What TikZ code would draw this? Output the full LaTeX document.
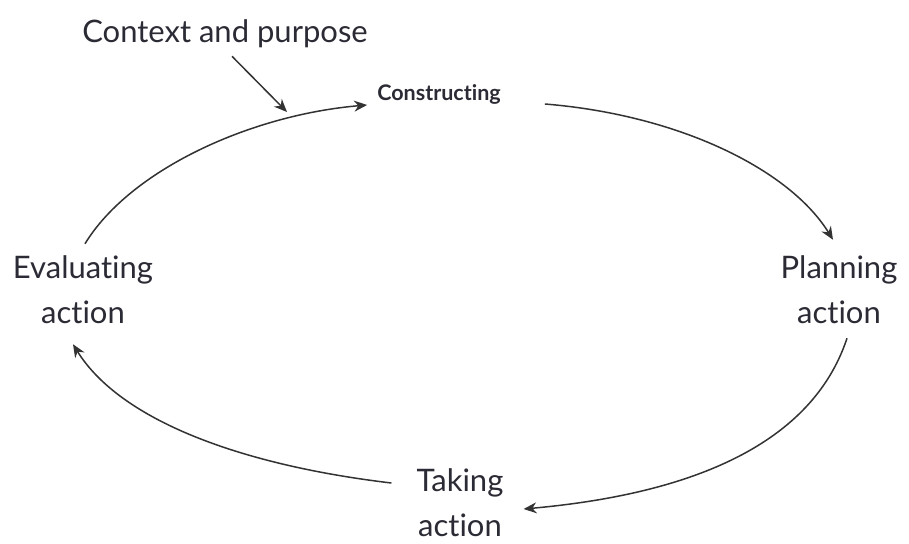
\documentclass[tikz,border=0pt]{standalone}
\usepackage{fontspec}
\setmainfont[Ligatures={NoCommon,NoRare,NoDiscretionary}]{Lato}
\usetikzlibrary{arrows.meta,calc}
\definecolor{ink}{HTML}{2B2B35}
\definecolor{wire}{HTML}{333333}
\tikzset{
  label/.style={text=ink, inner sep=0pt, align=center, font=\fontsize{31}{45}\selectfont},
  small/.style={text=ink, inner sep=0pt, font=\bfseries\fontsize{21.5}{24}\selectfont},
  flow/.style={draw=wire, line width=1.5pt, -{Stealth[length=13pt,width=11pt]}}
}
\begin{document}
\begin{tikzpicture}[x=1pt,y=-1pt]
  \useasboundingbox[fill=white] (0,0) rectangle (909,543);
  % labels
  \node[label] (ctx)  at (225,34)  {Context and purpose};
  \node[small] (cons) at (439,94)  {Constructing};
  \node[label] (eval) at (83,290)  {Evaluating\\action};
  \node[label] (plan) at (839,290) {Planning\\action};
  \node[label] (take) at (460,503) {Taking\\action};
  % the cycle
  \draw[flow] ($(eval.north)+(2,-12)$) .. controls (130,170) and (250,115) .. ($(cons.west)+(-10,11)$);
  \draw[flow] ($(cons.east)+(44,10)$) .. controls (680,115) and (790,170) .. ($(plan.north)+(-6,-16)$);
  \draw[flow] ($(plan.south)+(8,14)$) .. controls (810,450) and (680,495) .. ($(take.east)+(20,6)$);
  \draw[flow] ($(take.west)+(-25,-20)$) .. controls (240,465) and (120,420) .. ($(eval.south)+(-10,20)$);
  % outside influence
  \coordinate (entry) at (287,112);
  \draw[flow] ($(ctx.south)+(7,8)$) -- (entry);
\end{tikzpicture}
\end{document}
